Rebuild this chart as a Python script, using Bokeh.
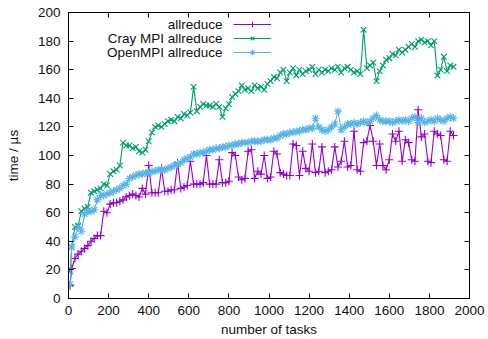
from bokeh.plotting import figure
from bokeh.models import (Range1d, FixedTicker, LinearAxis, Legend, LegendItem,
                          CustomJSTickFormatter, Label)
from bokeh.core.properties import value
from bokeh.embed import file_html
from bokeh.resources import INLINE

tasks = [8, 16, 32, 48, 64, 80, 96, 112, 128, 144,
         160, 176, 192, 208, 224, 240, 256, 272, 288, 304,
         320, 336, 352, 368, 384, 400, 416, 432, 448, 464,
         480, 496, 512, 528, 544, 560, 576, 592, 608, 624,
         640, 656, 672, 688, 704, 720, 736, 752, 768, 784,
         800, 816, 832, 848, 864, 880, 896, 912, 928, 944,
         960, 976, 992, 1008, 1024, 1040, 1056, 1072, 1088, 1104,
         1120, 1136, 1152, 1168, 1184, 1200, 1216, 1232, 1248, 1264,
         1280, 1296, 1312, 1328, 1344, 1360, 1376, 1392, 1408, 1424,
         1440, 1456, 1472, 1488, 1504, 1520, 1536, 1552, 1568, 1584,
         1600, 1616, 1632, 1648, 1664, 1680, 1696, 1712, 1728, 1744,
         1760, 1776, 1792, 1808, 1824, 1840, 1856, 1872, 1888, 1904,
         1920]

allreduce = [9, 21, 28, 31, 33, 35, 37, 40, 42, 44,
             44, 61, 60, 66, 67, 67, 68, 69, 71, 72,
             73, 72, 71, 77, 73, 93, 74, 74, 74, 91,
             75, 75, 76, 76, 95, 77, 78, 79, 96, 80,
             80, 80, 81, 100, 80, 80, 80, 97, 81, 81,
             82, 102, 100, 85, 83, 84, 103, 104, 84, 89,
             87, 100, 84, 85, 103, 101, 88, 87, 86, 86,
             108, 107, 86, 103, 91, 89, 108, 88, 89, 106,
             88, 89, 90, 106, 92, 96, 110, 92, 93, 117,
             90, 89, 109, 110, 121, 110, 93, 108, 93, 90,
             97, 115, 110, 117, 96, 111, 109, 97, 96, 132,
             113, 115, 96, 95, 117, 115, 114, 97, 96, 117,
             114]

cray_allreduce = [19, 36, 50, 51, 61, 63, 64, 74, 75, 76,
                  77, 80, 79, 87, 89, 90, 93, 109, 107, 107,
                  105, 106, 103, 102, 104, 110, 116, 120, 121, 120,
                  122, 124, 125, 124, 127, 126, 129, 128, 130, 148,
                  131, 134, 136, 135, 135, 134, 136, 134, 127, 133,
                  136, 141, 143, 145, 149, 146, 147, 145, 149, 147,
                  148, 146, 150, 152, 155, 154, 158, 160, 152, 158,
                  161, 156, 160, 157, 159, 160, 162, 157, 160, 158,
                  160, 159, 161, 160, 162, 158, 161, 162, 160, 158,
                  159, 157, 188, 161, 163, 165, 152, 159, 163, 167,
                  168, 171, 170, 174, 172, 174, 176, 178, 176, 180,
                  181, 179, 180, 177, 180, 156, 160, 169, 159, 163,
                  162]

openmpi_allreduce = [10, 36, 43, 50, 47, 59, 61, 61, 62, 69,
                     72, 72, 73, 74, 75, 76, 77, 79, 80, 84,
                     85, 86, 87, 87, 88, 88, 89, 89, 90, 90,
                     90, 91, 92, 93, 94, 95, 97, 98, 99, 101,
                     101, 102, 102, 103, 104, 104, 105, 105, 106, 106,
                     107, 107, 108, 108, 109, 109, 109, 110, 110, 110,
                     110, 111, 111, 111, 112, 112, 114, 115, 115, 116,
                     116, 117, 117, 118, 118, 119, 119, 126, 120, 118,
                     117, 118, 120, 122, 131, 118, 120, 122, 122, 123,
                     122, 123, 124, 123, 124, 126, 128, 125, 124, 124,
                     124, 123, 124, 125, 124, 125, 124, 126, 127, 123,
                     126, 123, 124, 125, 124, 126, 125, 124, 126, 127,
                     126]

series_labels = ["allreduce", "Cray MPI allreduce", "OpenMPI allreduce"]
series_colors = ["#9400D3", "#009E73", "#56B4E9"]
series_markers = ["cross", "x", "asterisk"]
x_ticks = [0, 200, 400, 600, 800, 1000, 1200, 1400, 1600, 1800, 2000]
y_ticks = [0, 20, 40, 60, 80, 100, 120, 140, 160, 180, 200]

FONT = "Liberation Sans"
FSIZE = "13.5px"

p = figure(width=488, height=339, output_backend="svg", toolbar_location=None,
           x_range=Range1d(0, 2000), y_range=Range1d(0, 200),
           min_border_left=68, min_border_right=19, min_border_top=12,
           min_border_bottom=41, background_fill_color="white",
           border_fill_color="white")
p.xgrid.visible = False
p.ygrid.visible = False
p.outline_line_color = "black"
p.outline_line_width = 1


def style_axis(ax, ticks, show_labels):
    ax.ticker = FixedTicker(ticks=ticks)
    ax.minor_tick_line_color = None
    ax.major_tick_in = 5
    ax.major_tick_out = 0
    ax.major_tick_line_color = "black"
    ax.axis_line_color = "black"
    if show_labels:
        ax.major_label_text_font = FONT
        ax.major_label_text_font_size = FSIZE
        ax.major_label_text_color = "#111111"
    else:
        ax.major_label_text_font_size = "0px"
        ax.major_label_standoff = 0
        ax.formatter = CustomJSTickFormatter(code="return ''")


xa = p.xaxis[0]
ya = p.yaxis[0]
style_axis(xa, x_ticks, True)
style_axis(ya, y_ticks, True)
xa.axis_label = "number of tasks"
ya.axis_label = "time / µs"
for ax in (xa, ya):
    ax.axis_label_text_font = FONT
    ax.axis_label_text_font_size = FSIZE
    ax.axis_label_text_font_style = "normal"
    ax.axis_label_text_color = "#111111"
xa.major_label_standoff = 7
xa.axis_label_standoff = 4
ya.major_label_standoff = 8
ya.axis_label_standoff = 14

top = LinearAxis()
right = LinearAxis()
style_axis(top, x_ticks, False)
style_axis(right, y_ticks, False)
p.add_layout(top, "above")
p.add_layout(right, "right")

items = []
for label, vals, color, marker in zip(series_labels,
                                      [allreduce, cray_allreduce, openmpi_allreduce],
                                      series_colors, series_markers):
    lr = p.line(tasks, vals, line_color=color, line_width=1.1)
    sr = p.scatter(tasks, vals, marker=marker, size=8, line_color=color,
                   line_width=1.1, fill_color=None)
    items.append(LegendItem(label=value(""), renderers=[lr, sr]))

legend = Legend(items=items, location=(165, 239), orientation="vertical",
                glyph_width=38, glyph_height=14, label_height=14, label_width=0,
                spacing=0, padding=0, margin=0, label_standoff=0,
                label_text_font=FONT, label_text_font_size=FSIZE,
                border_line_color=None, background_fill_alpha=0)
p.add_layout(legend)

# legend texts, right-aligned to the left of the sample lines (gnuplot style)
for i, label in enumerate(series_labels):
    p.add_layout(Label(x=154, y=274 - 14 * i, x_units="screen", y_units="screen",
                       text=label, text_align="right", text_baseline="middle",
                       text_font=FONT, text_font_size=FSIZE, text_color="#111111"))

open("out.html", "w").write(file_html(p, INLINE))
